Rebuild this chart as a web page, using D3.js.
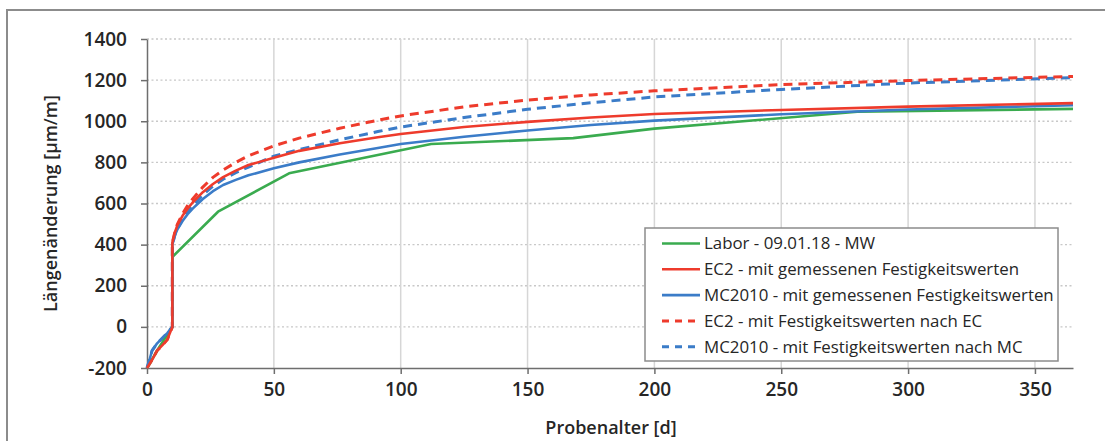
<!DOCTYPE html>
<html>
<head>
<meta charset="utf-8">
<script src="https://cdn.jsdelivr.net/npm/d3@7"></script>
<style>
  body { margin: 0; background: #fff; }
  svg text { font-family: "Open Sans", sans-serif; fill: #262626; }
</style>
</head>
<body>
<svg class="chart" width="1105" height="441"></svg>
<script>
(function () {
'use strict';

// measured lab values (Labor - 09.01.18 - MW)
var laborDays   = [0, 5, 10, 10, 28, 56, 112, 168, 200, 280, 365];
var laborValues = [-200, -95, 0, 340, 560, 747, 889, 918, 964, 1046, 1060];

// model curves share one day grid
var modelDays = [0, 1, 2, 4, 6, 8, 10, 10, 11, 12, 14, 16, 18, 22, 26, 30, 35, 40, 50, 60, 76, 91, 100, 125, 150, 175, 200, 250, 300, 365];
var ec2Measured = [-200, -180, -160, -115, -90, -62, 0, 410, 460, 495, 540, 575, 605, 655, 695, 728, 760, 787, 822, 856, 893, 922, 938, 972, 997, 1018, 1035, 1055, 1071, 1088];
var mcMeasured  = [-200, -160, -115, -80, -55, -30, 0, 400, 445, 475, 515, 548, 575, 622, 660, 690, 715, 737, 771, 800, 838, 870, 889, 925, 955, 982, 1003, 1034, 1057, 1078];
var ec2Norm     = [-200, -180, -160, -115, -90, -62, 0, 410, 462, 500, 550, 590, 622, 680, 727, 763, 800, 832, 880, 918, 966, 1005, 1026, 1070, 1103, 1128, 1148, 1178, 1198, 1218];
var mcNorm      = [-200, -160, -115, -80, -55, -30, 0, 400, 447, 478, 522, 558, 588, 642, 685, 718, 750, 777, 830, 862, 910, 950, 972, 1018, 1058, 1090, 1118, 1155, 1186, 1212];

var seriesNames = [
    "Labor - 09.01.18 - MW",
    "EC2 - mit gemessenen Festigkeitswerten",
    "MC2010 - mit gemessenen Festigkeitswerten",
    "EC2 - mit Festigkeitswerten nach EC",
    "MC2010 - mit Festigkeitswerten nach MC"
];
var seriesColors = ["#3aab4f", "#ee3b2c", "#3b7cc8", "#ee3b2c", "#3b7cc8"];
var seriesDashed = [false, false, false, true, true];

var xTicks = [0, 50, 100, 150, 200, 250, 300, 350];
var yTicks = [-200, 0, 200, 400, 600, 800, 1000, 1200, 1400];

var svg = d3.select(".chart");
var plot = { left: 147, right: 1073, top: 39, bottom: 368 };

var x = d3.scaleLinear().domain([0, 365]).range([plot.left, plot.right]);
var y = d3.scaleLinear().domain([-200, 1400]).range([plot.bottom, plot.top]);

function zip(days, values) {
    return days.map(function (d, i) { return [d, values[i]]; });
}

var series = [
    zip(laborDays, laborValues),
    zip(modelDays, ec2Measured),
    zip(modelDays, mcMeasured),
    zip(modelDays, ec2Norm),
    zip(modelDays, mcNorm)
];

function plainNumber(d) {
    return String(d); // no thousands separator, plain hyphen minus
}

function drawFrame() {
    svg.append("rect")
        .attr("x", 7).attr("y", 10)
        .attr("width", 1110).attr("height", 450)
        .attr("fill", "none")
        .attr("stroke", "#8c8c8c")
        .attr("stroke-width", 2);
}

function drawGrid() {
    svg.append("g").selectAll("line")
        .data(yTicks.filter(function (d) { return d > -200; }))
        .enter().append("line")
        .attr("x1", plot.left).attr("x2", plot.right)
        .attr("y1", y).attr("y2", y)
        .attr("stroke", "#c8c8c8")
        .attr("stroke-width", 1.3)
        .attr("stroke-dasharray", "2,2.5");

    svg.append("g").selectAll("line")
        .data(xTicks.filter(function (d) { return d > 0; }))
        .enter().append("line")
        .attr("x1", x).attr("x2", x)
        .attr("y1", plot.top).attr("y2", plot.bottom)
        .attr("stroke", "#d6d6d6")
        .attr("stroke-width", 1.5);
}

function styleAxis(g) {
    g.select(".domain").attr("stroke", "#6e6e6e").attr("stroke-width", 1.5);
    g.selectAll(".tick line").attr("stroke", "#6e6e6e").attr("stroke-width", 1.5);
    g.selectAll(".tick text")
        .attr("font-size", 19)
        .attr("font-weight", 600)
        .attr("fill", "#262626");
}

function drawAxes() {
    var xAxis = d3.axisBottom(x).tickValues(xTicks).tickFormat(plainNumber)
        .tickSize(6).tickSizeOuter(0).tickPadding(9);
    var yAxis = d3.axisLeft(y).tickValues(yTicks).tickFormat(plainNumber)
        .tickSize(6).tickSizeOuter(0).tickPadding(14);

    svg.append("g")
        .attr("transform", "translate(0," + plot.bottom + ")")
        .call(xAxis)
        .call(styleAxis);

    svg.append("g")
        .attr("transform", "translate(" + plot.left + ",0)")
        .call(yAxis)
        .call(styleAxis);

    svg.append("text")
        .attr("x", (plot.left + plot.right) / 2 + 1)
        .attr("y", 434)
        .attr("text-anchor", "middle")
        .attr("font-size", 18)
        .attr("font-weight", 600)
        .text("Probenalter [d]");

    svg.append("text")
        .attr("transform", "translate(57," + (plot.top + plot.bottom) / 2 + ") rotate(-90)")
        .attr("text-anchor", "middle")
        .attr("font-size", 18)
        .attr("font-weight", 600)
        .text("Längenänderung [µm/m]");
}

function drawLines() {
    var line = d3.line()
        .x(function (d) { return x(d[0]); })
        .y(function (d) { return y(d[1]); });

    // draw dashed first so solid lines sit on top, as in the original
    var order = [4, 3, 0, 2, 1];
    order.forEach(function (i) {
        svg.append("path")
            .datum(series[i])
            .attr("d", line)
            .attr("fill", "none")
            .attr("stroke", seriesColors[i])
            .attr("stroke-width", seriesDashed[i] ? 3 : 2.6)
            .attr("stroke-linejoin", "round")
            .attr("stroke-dasharray", seriesDashed[i] ? "9,6" : null);
    });
}

function drawLegend() {
    var box = { x: 645, y: 228, w: 413, h: 133 };
    var rowStep = 25.8;
    var legend = svg.append("g");

    legend.append("rect")
        .attr("x", box.x).attr("y", box.y)
        .attr("width", box.w).attr("height", box.h)
        .attr("fill", "#fff")
        .attr("stroke", "#8c8c8c")
        .attr("stroke-width", 1.5);

    var rows = legend.selectAll("g.row")
        .data(seriesNames)
        .enter().append("g")
        .attr("class", "row")
        .attr("transform", function (d, i) { return "translate(0," + (box.y + 15.5 + i * rowStep) + ")"; });

    rows.append("line")
        .attr("x1", 662).attr("x2", 700)
        .attr("stroke", function (d, i) { return seriesColors[i]; })
        .attr("stroke-width", function (d, i) { return seriesDashed[i] ? 3 : 2.6; })
        .attr("stroke-dasharray", function (d, i) { return seriesDashed[i] ? "7,6" : null; });

    var texts = rows.append("text")
        .attr("x", 704)
        .attr("dy", "0.35em")
        .attr("font-size", 16)
        .attr("font-weight", 500)
        .text(function (d) { return d; });

    // fit the longest label to the width it has in the original
    var longest = d3.max(texts.nodes(), function (n) { return n.getComputedTextLength(); });
    texts.attr("font-size", 16 * 350 / longest);
}

drawFrame();
drawGrid();
drawAxes();
drawLines();
drawLegend();
})();
</script>
</body>
</html>
